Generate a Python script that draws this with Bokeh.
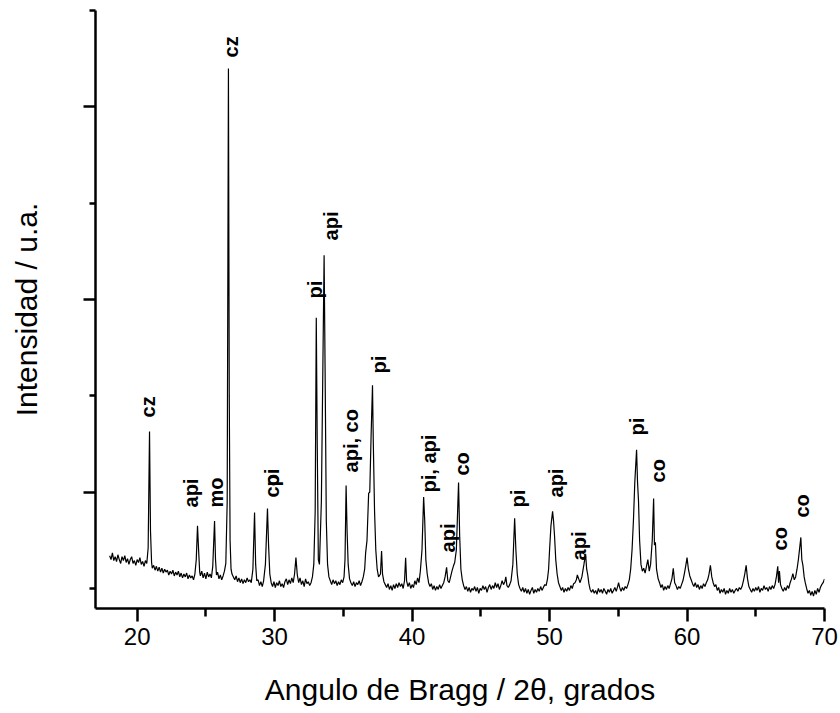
from math import pi
from bokeh.plotting import figure
from bokeh.models import Range1d, FixedTicker, ColumnDataSource
from bokeh.core.properties import value
from bokeh.embed import file_html
from bokeh.resources import INLINE

# ---- XRD trace (2theta in degrees, intensity in arbitrary units) ----
two_theta = [
    18.0, 18.1, 18.2, 18.3, 18.4, 18.5, 18.6, 18.7, 18.8, 18.9,
    19.0, 19.1, 19.2, 19.3, 19.4, 19.5, 19.6, 19.7, 19.8, 19.9,
    20.0, 20.1, 20.2, 20.3, 20.4, 20.5, 20.6, 20.7, 20.8, 20.9,
    20.97, 21.05, 21.1, 21.2, 21.3, 21.4, 21.5, 21.6, 21.7, 21.8,
    21.9, 22.0, 22.1, 22.2, 22.3, 22.4, 22.5, 22.6, 22.7, 22.8,
    22.9, 23.0, 23.1, 23.2, 23.3, 23.4, 23.5, 23.6, 23.7, 23.8,
    23.9, 24.0, 24.1, 24.2, 24.3, 24.39, 24.47, 24.55, 24.6, 24.7,
    24.8, 24.9, 25.0, 25.1, 25.2, 25.3, 25.4, 25.5, 25.63, 25.7,
    25.77, 25.85, 25.95, 26.05, 26.15, 26.25, 26.35, 26.45, 26.55, 26.64,
    26.7, 26.76, 26.83, 26.9, 27.0, 27.1, 27.2, 27.3, 27.4, 27.5,
    27.6, 27.7, 27.8, 27.9, 28.0, 28.1, 28.2, 28.3, 28.42, 28.54,
    28.62, 28.7, 28.8, 28.9, 29.0, 29.1, 29.2, 29.33, 29.48, 29.56,
    29.65, 29.75, 29.85, 29.95, 30.05, 30.15, 30.25, 30.35, 30.45, 30.55,
    30.65, 30.75, 30.85, 30.95, 31.05, 31.15, 31.25, 31.35, 31.45, 31.55,
    31.65, 31.75, 31.85, 31.95, 32.05, 32.15, 32.25, 32.35, 32.45, 32.55,
    32.65, 32.75, 32.85, 32.95, 33.03, 33.1, 33.18, 33.26, 33.4, 33.6,
    33.67, 33.76, 33.85, 33.95, 34.05, 34.15, 34.25, 34.35, 34.45, 34.55,
    34.65, 34.75, 34.85, 34.95, 35.05, 35.12, 35.2, 35.27, 35.35, 35.45,
    35.55, 35.65, 35.75, 35.85, 35.95, 36.05, 36.15, 36.25, 36.35, 36.45,
    36.55, 36.62, 36.72, 36.84, 36.92, 37.02, 37.12, 37.18, 37.27, 37.36,
    37.46, 37.56, 37.7, 37.78, 37.85, 37.95, 38.05, 38.15, 38.25, 38.35,
    38.45, 38.55, 38.65, 38.75, 38.85, 38.95, 39.05, 39.15, 39.25, 39.35,
    39.45, 39.53, 39.6, 39.7, 39.8, 39.9, 40.0, 40.1, 40.2, 40.3,
    40.4, 40.5, 40.6, 40.72, 40.84, 40.92, 41.0, 41.1, 41.2, 41.3,
    41.4, 41.5, 41.6, 41.7, 41.8, 41.9, 42.0, 42.1, 42.2, 42.3,
    42.4, 42.51, 42.6, 42.7, 42.8, 42.9, 43.0, 43.1, 43.22, 43.38,
    43.46, 43.55, 43.65, 43.75, 43.85, 43.95, 44.05, 44.15, 44.25, 44.35,
    44.45, 44.55, 44.65, 44.75, 44.85, 44.95, 45.05, 45.15, 45.25, 45.35,
    45.45, 45.55, 45.65, 45.75, 45.85, 45.95, 46.05, 46.15, 46.25, 46.35,
    46.45, 46.55, 46.65, 46.75, 46.82, 46.9, 47.0, 47.1, 47.2, 47.33,
    47.46, 47.55, 47.65, 47.75, 47.85, 47.95, 48.05, 48.15, 48.25, 48.35,
    48.45, 48.55, 48.65, 48.75, 48.85, 48.95, 49.05, 49.15, 49.25, 49.35,
    49.45, 49.55, 49.65, 49.75, 49.85, 49.93, 50.0, 50.1, 50.22, 50.29,
    50.36, 50.45, 50.55, 50.65, 50.75, 50.85, 50.95, 51.05, 51.15, 51.25,
    51.35, 51.45, 51.55, 51.65, 51.75, 51.85, 51.95, 52.02, 52.12, 52.22,
    52.35, 52.5, 52.62, 52.7, 52.78, 52.86, 52.95, 53.05, 53.15, 53.25,
    53.35, 53.45, 53.55, 53.65, 53.75, 53.85, 53.95, 54.05, 54.15, 54.25,
    54.35, 54.45, 54.55, 54.65, 54.75, 54.85, 54.95, 55.02, 55.1, 55.2,
    55.3, 55.4, 55.5, 55.6, 55.7, 55.8, 55.9, 56.0, 56.1, 56.2,
    56.33, 56.4, 56.47, 56.55, 56.65, 56.75, 56.85, 56.95, 57.05, 57.15,
    57.25, 57.35, 57.47, 57.57, 57.63, 57.7, 57.78, 57.9, 58.0, 58.1,
    58.2, 58.3, 58.4, 58.5, 58.6, 58.7, 58.8, 58.9, 59.0, 59.1,
    59.2, 59.3, 59.4, 59.5, 59.6, 59.7, 59.8, 59.9, 60.0, 60.1,
    60.2, 60.3, 60.4, 60.5, 60.6, 60.7, 60.8, 60.9, 61.0, 61.1,
    61.2, 61.3, 61.4, 61.5, 61.6, 61.7, 61.8, 61.9, 62.0, 62.1,
    62.2, 62.3, 62.4, 62.5, 62.6, 62.7, 62.8, 62.9, 63.0, 63.1,
    63.2, 63.3, 63.4, 63.5, 63.6, 63.7, 63.8, 63.9, 64.0, 64.1,
    64.2, 64.3, 64.4, 64.5, 64.6, 64.7, 64.8, 64.9, 65.0, 65.1,
    65.2, 65.3, 65.4, 65.5, 65.6, 65.7, 65.8, 65.9, 66.0, 66.1,
    66.2, 66.3, 66.4, 66.5, 66.6, 66.66, 66.72, 66.8, 66.9, 67.0,
    67.1, 67.2, 67.3, 67.4, 67.5, 67.6, 67.7, 67.8, 67.9, 68.0,
    68.1, 68.28, 68.35, 68.43, 68.52, 68.6, 68.7, 68.8, 68.9, 69.0,
    69.1, 69.2, 69.3, 69.4, 69.5, 69.6, 69.7, 69.8, 69.9, 70.0,
]

intensity = [
    340, 300, 370, 290, 330, 280, 350, 300, 260, 330,
    290, 340, 270, 310, 250, 300, 330, 260, 290, 240,
    300, 270, 320, 250, 280, 230, 290, 260, 420, 1630,
    600, 270, 210, 240, 190, 230, 180, 220, 170, 210,
    160, 200, 170, 190, 140, 180, 150, 190, 130, 170,
    140, 180, 120, 160, 110, 150, 120, 160, 100, 140,
    110, 130, 90, 150, 300, 650, 400, 170, 130, 180,
    110, 160, 100, 170, 120, 150, 110, 230, 700, 300,
    140, 170, 100, 140, 90, 130, 180, 260, 900, 5400,
    2000, 500, 200, 150, 120, 90, 130, 70, 110, 60,
    100, 50, 90, 60, 110, 70, 90, 60, 200, 790,
    250, 80, 90, 30, 70, 20, 80, 250, 830, 450,
    150, 60, 20, 70, 10, 60, 30, 80, 20, 50,
    10, 70, 100, 40, 90, 50, 110, 60, 150, 320,
    140, 60, 110, 40, 80, 20, 100, 50, 70, 30,
    60, 120, 250, 800, 2810, 1500, 300, 250, 900, 3460,
    2300, 700, 250, 120, 80, 40, 90, 50, 80, 30,
    70, 40, 90, 60, 120, 300, 1070, 600, 250, 100,
    60, 30, 70, 20, 60, 40, 80, 30, 70, 120,
    200, 370, 500, 990, 1000, 1600, 2110, 1500, 800, 400,
    200, 120, 150, 390, 150, 70, 40, 10, 50, -10,
    30, -20, 40, 0, 50, 10, 60, 20, 50, 0,
    80, 320, 80, 20, 60, 0, 40, 10, 80, 40,
    110, 60, 180, 400, 950, 700, 300, 150, 60, 20,
    50, -10, 30, -20, 20, -10, 40, 0, 30, 60,
    120, 220, 80, 60, 120, 180, 230, 270, 400, 1100,
    550, 200, 90, 30, -10, 20, -30, 10, -40, 0,
    -20, 20, -30, 10, -50, 0, -20, 30, -10, 20,
    -40, 10, 40, -10, 30, 0, 60, 10, 50, -10,
    30, 80, 40, 70, 120, 30, 10, 40, 80, 250,
    730, 400, 150, 40, 0, -30, 10, -40, 0, -50,
    -10, -60, -20, 10, -50, -10, -40, 0, -30, 20,
    -20, 10, 40, 30, 100, 200, 400, 650, 800, 700,
    550, 300, 150, 60, 20, -20, 10, -40, 0, -30,
    10, -20, 30, 0, 50, 60, 90, 140, 100, 60,
    120, 250, 360, 200, 140, 50, -10, -40, -10, -50,
    -20, -60, 0, -40, -10, -50, 0, -30, -60, -10,
    -40, 0, -50, -20, 10, -30, 20, 60, 10, -30,
    10, -20, 20, 0, 40, 90, 200, 400, 700, 1100,
    1440, 1100, 910, 500, 250, 180, 210, 160, 230, 300,
    180, 250, 500, 935, 450, 480, 200, 100, 60, 10,
    40, -20, 20, -10, 30, 0, 50, 100, 210, 60,
    30, -10, 20, 0, 40, 80, 150, 230, 320, 200,
    130, 90, 50, 20, 60, 10, 40, -10, 30, 0,
    50, 20, 60, 90, 150, 240, 120, 60, 20, 40,
    -20, 10, -50, -10, -40, 0, -60, -20, -50, 0,
    -40, -10, -50, -20, 0, -30, 10, -10, 20, 80,
    150, 240, 100, 20, -10, -40, 0, -30, 10, -20,
    20, -40, 0, -20, 30, -10, 10, -30, 20, -10,
    30, 0, 40, 120, 230, 60, 180, 40, 0, -30,
    10, -20, 30, 0, 60, 100, 155, 90, 120, 200,
    300, 530, 300, 240, 120, 60, 0, -50, -20, -70,
    -30, -80, -20, -60, 0, -40, 10, 40, 60, 100,
]

# ---- phase labels (position of label centre in 2theta, start height in intensity units) ----
label_text = ["cz", "api", "mo", "cz", "co", "pi", "pi", "api", "api, co", "pi",
              "pi, api", "api", "co", "pi", "api", "api", "pi", "co", "co", "co"]
label_x = [20.82, 23.95, 25.77, 26.86, 29.84, 29.84, 32.97, 34.13, 35.52, 37.56,
           41.20, 42.58, 43.60, 47.68, 50.44, 52.12, 56.34, 57.87, 66.75, 68.35]
label_y = [1776, 841, 841, 5514, 945, 1059, 3011, 3614, 1205, 2233,
           997, 374, 1173, 841, 945, 291, 1589, 1101, 395, 737]

x_major_ticks = [20, 30, 40, 50, 60, 70]
x_minor_ticks = [25, 35, 45, 55, 65]
y_major_ticks = [1000, 3000, 5000]
y_minor_ticks = [0, 2000, 4000, 6000]

FONT = "Liberation Sans"

p = figure(width=840, height=713, output_backend="svg", toolbar_location=None,
           x_range=Range1d(16.97, 70.0), y_range=Range1d(-208, 6002),
           min_border_left=95, min_border_right=16, min_border_top=10, min_border_bottom=105)
p.outline_line_color = None
p.grid.visible = False
p.background_fill_color = "white"
p.border_fill_color = "white"

p.line(two_theta, intensity, line_color="black", line_width=1.2)

src = ColumnDataSource(dict(x=label_x, y=label_y, text=label_text))
p.text(x="x", y="y", text="text", source=src, angle=pi / 2,
       text_align="left", text_baseline="middle",
       text_font=value(FONT), text_font_style="bold", text_font_size="20px",
       text_color="black")

xa = p.xaxis[0]
xa.ticker = FixedTicker(ticks=x_major_ticks, minor_ticks=x_minor_ticks)
xa.axis_line_width = 2.5
xa.major_tick_line_width = 2.5
xa.minor_tick_line_width = 2.5
xa.major_tick_in = 0
xa.major_tick_out = 13
xa.minor_tick_in = 0
xa.minor_tick_out = 8
xa.major_label_text_font = FONT
xa.major_label_text_font_size = "24px"
xa.major_label_text_color = "black"
xa.major_label_standoff = 6
xa.axis_label = "Angulo de Bragg / 2θ, grados"
xa.axis_label_text_font = FONT
xa.axis_label_text_font_size = "30px"
xa.axis_label_text_font_style = "normal"
xa.axis_label_text_color = "black"
xa.axis_label_standoff = 25

ya = p.yaxis[0]
ya.ticker = FixedTicker(ticks=y_major_ticks, minor_ticks=y_minor_ticks)
ya.axis_line_width = 2.5
ya.major_tick_line_width = 2.5
ya.minor_tick_line_width = 2.5
ya.major_tick_in = 0
ya.major_tick_out = 12
ya.minor_tick_in = 0
ya.minor_tick_out = 6
ya.major_label_overrides = {t: "" for t in y_major_ticks}
ya.major_label_standoff = 0
ya.axis_label = "Intensidad / u.a."
ya.axis_label_text_font = FONT
ya.axis_label_text_font_size = "30px"
ya.axis_label_text_font_style = "normal"
ya.axis_label_text_color = "black"
ya.axis_label_standoff = 41

open("out.html", "w").write(file_html(p, INLINE))
